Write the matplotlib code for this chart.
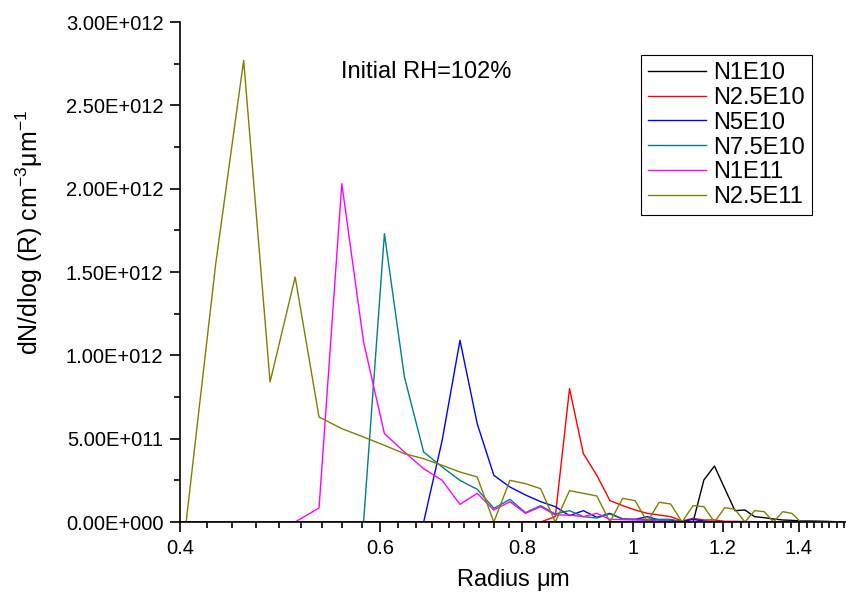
import matplotlib
matplotlib.use("Agg")
import matplotlib.pyplot as plt
from matplotlib.ticker import FixedLocator, FuncFormatter

plt.rcParams['font.family'] = ['Liberation Sans', 'DejaVu Sans']
plt.rcParams['mathtext.fontset'] = 'custom'
plt.rcParams['mathtext.rm'] = 'Liberation Sans'
plt.rcParams['mathtext.it'] = 'Liberation Sans:italic'

# radius bins (um)
radius = [0.380, 0.405, 0.430, 0.455, 0.480, 0.505, 0.530, 0.555, 0.580, 0.605,
          0.630, 0.655, 0.680, 0.705, 0.730, 0.755, 0.780, 0.805, 0.830, 0.855,
          0.880, 0.905, 0.930, 0.955, 0.980, 1.005, 1.030, 1.055, 1.080, 1.105,
          1.130, 1.155, 1.180, 1.205, 1.230, 1.255, 1.280, 1.305, 1.330, 1.355,
          1.380, 1.405, 1.430, 1.455, 1.480, 1.505, 1.530]

# dN/dlog(R) in units of 1e11
n1e10 = [0, 0, 0, 0, 0, 0, 0, 0, 0, 0,
         0, 0, 0, 0, 0, 0, 0, 0, 0, 0,
         0, 0, 0, 0, 0, 0, 0, 0, 0, 0,
         0, 2.52, 3.36, 2.0, 0.68, 0.72, 0.32, 0.26, 0.18, 0.12,
         0.10, 0.06, 0.06, 0.05, 0.04, 0.02, 0.01]
n2_5e10 = [0, 0, 0, 0, 0, 0, 0, 0, 0, 0,
           0, 0, 0, 0, 0, 0, 0, 0, 0, 0.32,
           8.0, 4.1, 2.8, 1.28, 0.98, 0.72, 0.52, 0.42, 0.32, 0.06,
           0.22, 0.12, 0.12, 0.04, 0.04, 0.03, 0.02, 0.01, 0.01, 0.01,
           0, 0, 0, 0, 0, 0, 0]
n5e10 = [0, 0, 0, 0, 0, 0, 0, 0, 0, 0,
         0, 0, 4.9, 10.9, 5.9, 2.8, 2.1, 1.62, 1.22, 0.92,
         0.38, 0.68, 0.28, 0.52, 0.18, 0.16, 0.32, 0.12, 0.12, 0.02,
         0.16, 0.05, 0, 0, 0, 0, 0, 0, 0, 0,
         0, 0, 0, 0, 0, 0, 0]
n7_5e10 = [0, 0, 0, 0, 0, 0, 0, 0, 0, 17.3,
           8.7, 4.2, 3.3, 2.5, 1.96, 0.82, 1.36, 0.56, 0.98, 0.48,
           0.68, 0.32, 0.24, 0.48, 0.18, 0.16, 0.16, 0.16, 0.16, 0,
           0, 0, 0, 0, 0, 0, 0, 0, 0, 0,
           0, 0, 0, 0, 0, 0, 0]
n1e11 = [0, 0, 0, 0, 0, 0, 0.84, 20.3, 10.8, 5.3,
         4.2, 3.2, 2.5, 1.06, 1.72, 0.72, 1.22, 0.52, 0.92, 0.42,
         0.42, 0.32, 0.52, 0.16, 0.14, 0.12, 0.10, 0.06, 0, 0,
         0, 0, 0, 0, 0, 0, 0, 0, 0, 0,
         0, 0, 0, 0, 0, 0, 0]
n2_5e11 = [0, 0, 15.5, 27.7, 8.4, 14.7, 6.3, 5.6, 5.1, 4.6,
           4.1, 3.8, 3.4, 3.0, 2.7, 0, 2.5, 2.3, 2.0, 0,
           1.88, 1.72, 1.56, 0, 1.42, 1.28, 0, 1.18, 1.08, 0,
           0.98, 0.92, 0, 0.86, 0.76, 0, 0.68, 0.62, 0, 0.62,
           0.52, 0, 0, 0, 0, 0, 0]

series = [("N1E10", n1e10, "#000000"),
          ("N2.5E10", n2_5e10, "#FF0000"),
          ("N5E10", n5e10, "#0000FF"),
          ("N7.5E10", n7_5e10, "#008080"),
          ("N1E11", n1e11, "#FF00FF"),
          ("N2.5E11", n2_5e11, "#808000")]

fig = plt.figure(figsize=(8.46, 5.96), dpi=100)
ax = fig.add_axes([180 / 846, 74 / 596, 666 / 846, 500 / 596])

for name, vals, col in series:
    ax.plot(radius, [v * 1e11 for v in vals], color=col, lw=1.0, label=name)

ax.set_xscale('log')
ax.set_xlim(0.4, 1.54)
ax.set_ylim(0, 3.0e12)

major_x = [0.4, 0.6, 0.8, 1.0, 1.2, 1.4]
minor_x = [0.4 + i * 0.2 / 9 for i in range(1, 54) if i % 9 != 0]
ax.xaxis.set_major_locator(FixedLocator(major_x))
ax.xaxis.set_minor_locator(FixedLocator(minor_x))
ax.xaxis.set_major_formatter(FuncFormatter(lambda v, p: f"{v:g}"))
ax.xaxis.set_minor_formatter(FuncFormatter(lambda v, p: ""))

ax.yaxis.set_major_locator(FixedLocator([i * 0.5e12 for i in range(7)]))
ax.yaxis.set_minor_locator(FixedLocator([0.25e12 + i * 0.5e12 for i in range(6)]))


def sci(v, p):
    m, e = f"{v:.2E}".split("E")
    return f"{m}E{e[0]}{int(e[1:]):03d}"


ax.yaxis.set_major_formatter(FuncFormatter(sci))

for s in ['top', 'right']:
    ax.spines[s].set_visible(False)
for s in ['left', 'bottom']:
    ax.spines[s].set_linewidth(1.2)
ax.tick_params(which='major', direction='out', length=7, width=1.2, labelsize=14.5, pad=5)
ax.tick_params(which='minor', direction='out', length=4, width=1.2)

ax.set_xlabel(r"Radius $\mathrm{\mu}$m", fontsize=17, labelpad=7)
ax.set_ylabel(r"dN/dlog (R) cm$^{\mathrm{-3}}$$\mathrm{\mu}$m$^{\mathrm{-1}}$", fontsize=18)
ax.yaxis.set_label_coords(-0.203, 0.58)

ax.text(0.2417, 0.9, "Initial RH=102%", transform=ax.transAxes, fontsize=17, va='center')

leg = ax.legend(loc='upper right', bbox_to_anchor=(0.949, 0.934), borderaxespad=0,
                fontsize=17, fancybox=False, edgecolor='black', framealpha=1,
                handlelength=2.45, handletextpad=0.3, labelspacing=0.12, borderpad=0.3)
leg.get_frame().set_linewidth(0.8)

fig.savefig("out.png", dpi=100)
